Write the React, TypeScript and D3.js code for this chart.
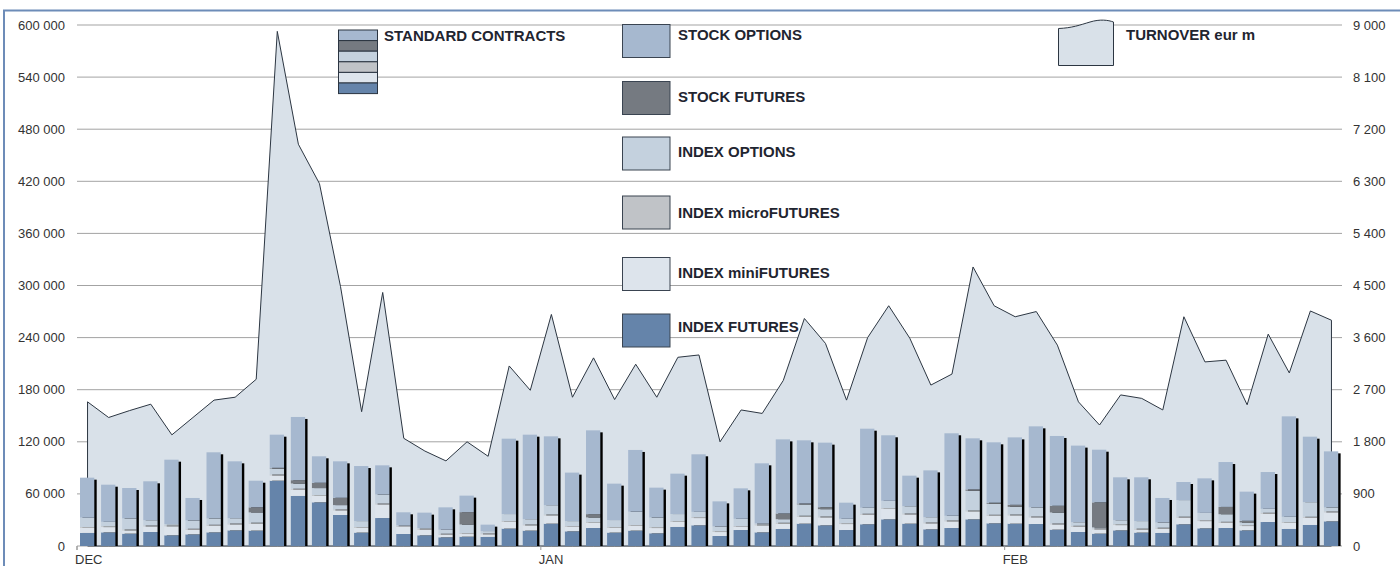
import React from "react";
import * as d3 from "d3";

// ---- data (60 trading days, Dec–Feb) ----
const monthLabels = ["DEC", "JAN", "FEB"];
const monthStartIndex = [0, 22, 44];
const categories = d3.range(60);

// contracts (standard contracts), stacked bottom -> top
const indexFutures = [15000, 15700, 14200, 16100, 12300, 13400, 15700, 18000, 17700, 75200, 57600, 50300, 35700, 15400, 32200, 13800, 12300, 10000, 10700, 10400, 20000, 17700, 25700, 16900, 20700, 15400, 17700, 14600, 21900, 23800, 11500, 18400, 15700, 19600, 25700, 23800, 18400, 25000, 30700, 25700, 19200, 20700, 30700, 26100, 25700, 25300, 18800, 16100, 14200, 18000, 15400, 15000, 25000, 20300, 20700, 18000, 27600, 19600, 24200, 28400];
const indexMiniFutures = [5800, 6100, 3800, 6500, 10400, 5400, 7700, 6900, 8100, 6100, 7300, 7300, 5400, 5400, 15700, 8100, 6500, 3100, 3100, 3100, 7700, 6100, 9600, 5000, 5800, 5400, 5400, 6100, 5800, 8400, 4600, 3500, 8100, 6100, 8100, 9200, 6900, 11100, 11900, 10700, 6900, 7700, 9200, 8800, 9600, 7700, 6100, 6100, 5000, 6100, 3500, 5000, 7700, 8400, 6100, 5000, 9600, 6900, 8400, 10400];
const indexMicroFutures = [1000, 1000, 1000, 1000, 1000, 1000, 1000, 1000, 1000, 1000, 1000, 1000, 1000, 1000, 1000, 1000, 1000, 1000, 1000, 1000, 1000, 1000, 1000, 1000, 1000, 1000, 1000, 1000, 1000, 1000, 1000, 1000, 1000, 1000, 1000, 1000, 1000, 1000, 1000, 1000, 1000, 1000, 1000, 1000, 1000, 1000, 1000, 1000, 1000, 1000, 1000, 1000, 1000, 1000, 1000, 1000, 1000, 1000, 1000, 1000];
const indexOptions = [10700, 5000, 12700, 6100, 1500, 9600, 7300, 6100, 11900, 6900, 6100, 8100, 5000, 6900, 10400, 800, 800, 4600, 10000, 2700, 8100, 6100, 10700, 5800, 5400, 8100, 15400, 11100, 8100, 6100, 5400, 8400, 1200, 4200, 13100, 8400, 5000, 6900, 8400, 8400, 6100, 5400, 22700, 12700, 8800, 10400, 12700, 4200, 1200, 4600, 8800, 6100, 19200, 8400, 8800, 3100, 4600, 6100, 16900, 4600];
const stockFutures = [0, 0, 0, 0, 0, 0, 0, 0, 5800, 800, 3800, 6100, 8400, 0, 0, 0, 0, 0, 14200, 0, 0, 0, 0, 0, 3800, 0, 0, 0, 0, 0, 0, 0, 0, 6500, 1000, 2300, 0, 0, 0, 0, 0, 0, 1500, 1200, 2300, 0, 7700, 0, 28800, 0, 0, 0, 0, 0, 8400, 1900, 0, 0, 0, 0];
const stockOptions = [46200, 42800, 35100, 44800, 74200, 25900, 76200, 65500, 30700, 38200, 72800, 30500, 42000, 63400, 33600, 15100, 17800, 25800, 19000, 7400, 86800, 97300, 79300, 55800, 96500, 41900, 71100, 34400, 46500, 66300, 28900, 35100, 69200, 85400, 72800, 74300, 18600, 91100, 75500, 35200, 53900, 95000, 58900, 69600, 77700, 93400, 80400, 88200, 60700, 49400, 50400, 28200, 20800, 39800, 51700, 33600, 42400, 115700, 75400, 64600];

// turnover, eur m
const turnover = [2490, 2220, 2340, 2450, 1920, 2220, 2520, 2570, 2880, 8890, 6940, 6260, 4480, 2320, 4380, 1860, 1640, 1470, 1800, 1550, 3110, 2690, 4000, 2570, 3250, 2530, 3140, 2570, 3260, 3300, 1800, 2350, 2290, 2860, 3930, 3500, 2520, 3600, 4150, 3590, 2780, 2970, 4820, 4150, 3960, 4050, 3470, 2490, 2090, 2610, 2550, 2350, 3960, 3180, 3210, 2440, 3660, 2990, 4060, 3900];

const leftTicks = [0, 60000, 120000, 180000, 240000, 300000, 360000, 420000, 480000, 540000, 600000];
const rightTicks = [0, 900, 1800, 2700, 3600, 4500, 5400, 6300, 7200, 8100, 9000];

const seriesKeys = ["indexFutures", "indexMiniFutures", "indexMicroFutures", "indexOptions", "stockFutures", "stockOptions"];
const seriesNames = ["INDEX FUTURES", "INDEX miniFUTURES", "INDEX microFUTURES", "INDEX OPTIONS", "STOCK FUTURES", "STOCK OPTIONS"];
const seriesColors = ["#6584aa", "#dde4ec", "#c0c3c7", "#c4d1de", "#757a81", "#a6b8cf"];
const seriesArrays = [indexFutures, indexMiniFutures, indexMicroFutures, indexOptions, stockFutures, stockOptions];

const W = 1400;
const H = 566;
const FONT = "'Liberation Sans', Arial, sans-serif";

export default function App() {
  const x = d3.scaleBand<number>().domain(categories).range([77, 1342]).padding(0);
  const bw = x.bandwidth();
  const yL = d3.scaleLinear().domain([0, 600000]).range([546, 25]);
  const yR = d3.scaleLinear().domain([0, 9000]).range([546, 25]);

  const table = categories.map((i) => {
    const row: any = { i };
    seriesKeys.forEach((k, s) => (row[k] = seriesArrays[s][i]));
    return row;
  });
  const stacked = d3.stack<any>().keys(seriesKeys)(table);
  const totals = categories.map((i) => stacked[stacked.length - 1][i][1]);

  const area = d3
    .area<number>()
    .x((d, i) => (x(i) as number) + bw / 2)
    .y0(yL(0))
    .y1((d) => yR(d));

  const barW = 14.3;
  const barOff = 3;

  const legendOrder = [5, 4, 3, 2, 1, 0];
  const legendSwatchTop = [24.5, 81.5, 137, 196, 257.5, 314];
  const legendTextBase = [39.5, 101.5, 157, 218, 277.5, 332];
  const stackOrder = [5, 4, 3, 2, 1, 0];

  return (
    <svg
      width={W}
      height={H}
      style={{ position: "absolute", left: 0, top: 0, display: "block", background: "#fff" }}
      fontFamily={FONT}
    >
      <rect x={0} y={0} width={W} height={H} fill="#fff" />
      {leftTicks.map((t) => (
        <line key={"g" + t} x1={77} x2={1342} y1={yL(t)} y2={yL(t)} stroke="#a3a3a3" strokeWidth={1} />
      ))}
      <path d={area(turnover) as string} fill="#d9e1e9" stroke="#2c3642" strokeWidth={1} strokeLinejoin="miter" />
      {categories.map((i) => (
        <rect
          key={"sh" + i}
          x={(x(i) as number) + barOff + 2.4}
          y={yL(totals[i]) + 2}
          width={barW}
          height={yL(0) - yL(totals[i]) - 2}
          fill="#000"
        />
      ))}
      {stacked.map((layer, s) => (
        <g key={layer.key} fill={seriesColors[s]}>
          {layer.map((d, i) => {
            const h = yL(d[0]) - yL(d[1]);
            if (h <= 0.05) return null;
            return <rect key={i} x={(x(i) as number) + barOff} y={yL(d[1])} width={barW} height={h} />;
          })}
        </g>
      ))}
      <line x1={77} x2={77} y1={546} y2={550} stroke="#999" />
      {monthStartIndex.map((mi, k) => (
        <g key={"m" + k}>
          <line x1={x(mi) as number} x2={x(mi) as number} y1={546} y2={550} stroke="#999" />
          <text x={(x(mi) as number) - 2} y={563.5} fontSize={13} fill="#333">
            {monthLabels[k]}
          </text>
        </g>
      ))}
      {leftTicks.map((t) => (
        <text key={"l" + t} x={65} y={yL(t)} dy="0.35em" textAnchor="end" fontSize={13} fill="#333">
          {d3.format(",")(t).replace(/,/g, " ")}
        </text>
      ))}
      {rightTicks.map((t) => (
        <text key={"r" + t} x={1353} y={yR(t)} dy="0.35em" textAnchor="start" fontSize={13} fill="#333">
          {d3.format(",")(t).replace(/,/g, " ")}
        </text>
      ))}
      {stackOrder.map((s, k) => (
        <rect
          key={"sc" + s}
          x={338.5}
          y={30 + k * 10.6}
          width={39}
          height={10.6}
          fill={seriesColors[s]}
          stroke="#2a3441"
          strokeWidth={1}
        />
      ))}
      <text x={384} y={41} fontSize={15} fontWeight="bold" fill="#1f2530">
        STANDARD CONTRACTS
      </text>
      {legendOrder.map((s, k) => (
        <g key={"lg" + s}>
          <rect
            x={622.5}
            y={legendSwatchTop[k]}
            width={47.5}
            height={33}
            fill={seriesColors[s]}
            stroke="#3a4451"
            strokeWidth={1}
          />
          <text x={678} y={legendTextBase[k]} fontSize={15} fontWeight="bold" fill="#1f2530">
            {seriesNames[s]}
          </text>
        </g>
      ))}
      <path
        d="M1058.5,28.5 C1072,28 1080,25 1090,22 C1100,19 1108,20 1113.5,22 L1113.5,65.5 L1058.5,65.5 Z"
        fill="#d9e1e9"
        stroke="#2c3642"
        strokeWidth={1}
      />
      <text x={1126} y={40} fontSize={15} fontWeight="bold" fill="#1f2530">
        TURNOVER eur m
      </text>
      <rect x={4} y={10.5} width={1420} height={600} fill="none" stroke="#6d8cb8" strokeWidth={2} />
    </svg>
  );
}
